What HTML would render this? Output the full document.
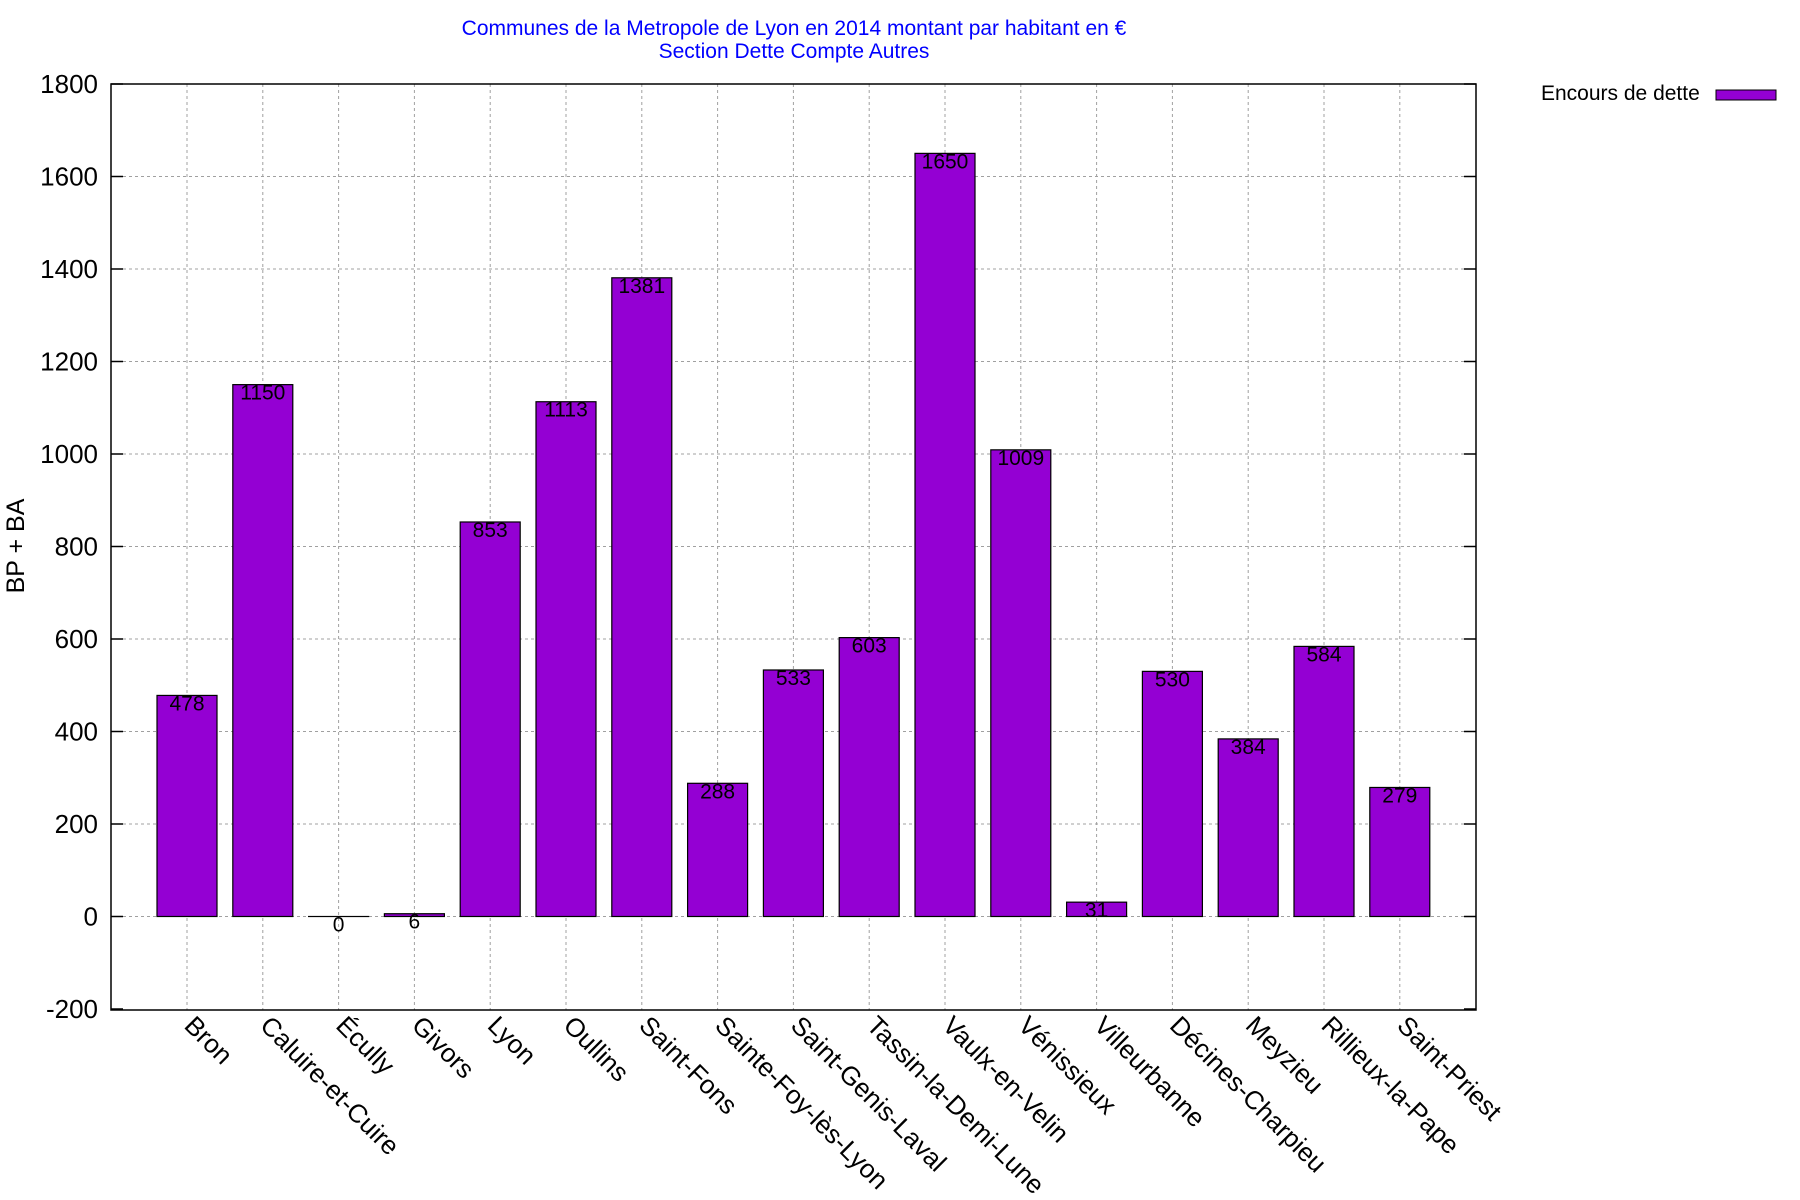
<!DOCTYPE html>
<html><head><meta charset="utf-8"><style>
html,body{margin:0;padding:0;background:#fff;}
svg{display:block;font-family:"Liberation Sans",Arial,sans-serif;}
</style></head><body>
<svg width="1800" height="1200" viewBox="0 0 1800 1200" xmlns="http://www.w3.org/2000/svg">
<rect width="1800" height="1200" fill="#fff"/>
<text x="794" y="35" font-size="21" fill="#0000ff" text-anchor="middle">Communes de la Metropole de Lyon en 2014 montant par habitant en €</text>
<text x="794" y="58" font-size="21" fill="#0000ff" text-anchor="middle">Section Dette Compte Autres</text>
<g id="grid" stroke="#a0a0a0" stroke-width="1" stroke-dasharray="3,3">
</g>
<g id="bars"></g>
<rect x="111" y="84" width="1365" height="926" fill="none" stroke="#000" stroke-width="1.5"/>
<g id="ticks" stroke="#000" stroke-width="1.5"></g>
<g id="ylab" font-size="26" text-anchor="end"></g>
<g id="xlab" font-size="26"></g>
<g id="vals" font-size="21" text-anchor="middle"></g>
<text transform="translate(24,546) rotate(-90)" font-size="25" text-anchor="middle">BP + BA</text>
<text x="1541" y="100" font-size="21">Encours de dette</text>
<rect x="1716" y="90" width="60" height="10" fill="#9400d3" stroke="#000" stroke-width="1"/>
<script>
const NS="http://www.w3.org/2000/svg";
function el(p,t,a,txt){const e=document.createElementNS(NS,t);for(const k in a)e.setAttribute(k,a[k]);if(txt!==undefined)e.textContent=txt;document.getElementById(p).appendChild(e);}
const names=["Bron","Caluire-et-Cuire","Écully","Givors","Lyon","Oullins","Saint-Fons","Sainte-Foy-lès-Lyon","Saint-Genis-Laval","Tassin-la-Demi-Lune","Vaulx-en-Velin","Vénissieux","Villeurbanne","Décines-Charpieu","Meyzieu","Rillieux-la-Pape","Saint-Priest"];
const vals=[478,1150,0,6,853,1113,1381,288,533,603,1650,1009,31,530,384,584,279];
const y0=916.5,k=0.4625;
for(let v=-200;v<=1800;v+=200){const y=y0-v*k;
 if(v>-200&&v<1800)el("grid","line",{x1:111,x2:1476,y1:y,y2:y});
 el("ticks","line",{x1:111,x2:123,y1:y,y2:y});el("ticks","line",{x1:1464,x2:1476,y1:y,y2:y});
 el("ylab","text",{x:98,y:y+9},String(v));}
for(let i=0;i<17;i++){const cx=187+i*75.8;
 el("grid","line",{x1:cx,x2:cx,y1:84,y2:1010});
 const top=y0-vals[i]*k;
 el("bars","rect",{x:cx-30,y:top,width:60,height:Math.max(y0-top,0.01),fill:"#9400d3",stroke:"#000","stroke-width":1.2});
 el("vals","text",{x:cx,y:top+15},String(vals[i]));
 el("xlab","text",{transform:`translate(${cx-4},1027) rotate(45)`},names[i]);}
</script>
</svg>
</body></html>
